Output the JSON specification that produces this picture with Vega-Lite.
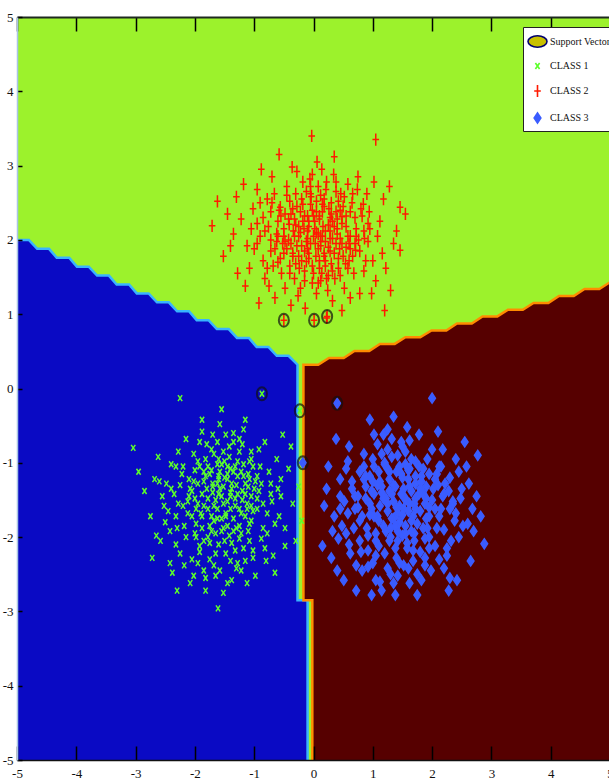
{
  "$schema": "https://vega.github.io/schema/vega-lite/v6.json",
  "width": 593,
  "height": 743,
  "autosize": {"type": "none"},
  "padding": {"left": 17, "top": 17, "right": 0, "bottom": 24},
  "background": "white",
  "config": {
    "view": {"stroke": null},
    "axis": {"labelFont": "Liberation Serif", "labelFontSize": 13, "labelColor": "#111", "tickColor": "#000", "grid": false, "title": null, "zindex": 2}
  },
  "datasets": {
    "bg": [{"x1": -5, "x2": 5, "y1": -5, "y2": 5}],
    "blue": [
      {"i": 0, "x": -5.3, "y": 2.0}, {"i": 1, "x": -4.8, "y": 2.0}, {"i": 2, "x": -4.66, "y": 1.88}, {"i": 3, "x": -4.46, "y": 1.88},
      {"i": 4, "x": -4.33, "y": 1.76}, {"i": 5, "x": -4.12, "y": 1.76}, {"i": 6, "x": -3.99, "y": 1.64}, {"i": 7, "x": -3.79, "y": 1.64},
      {"i": 8, "x": -3.65, "y": 1.52}, {"i": 9, "x": -3.45, "y": 1.52}, {"i": 10, "x": -3.32, "y": 1.4}, {"i": 11, "x": -3.11, "y": 1.4},
      {"i": 12, "x": -2.98, "y": 1.28}, {"i": 13, "x": -2.78, "y": 1.28}, {"i": 14, "x": -2.64, "y": 1.16}, {"i": 15, "x": -2.44, "y": 1.16},
      {"i": 16, "x": -2.3, "y": 1.04}, {"i": 17, "x": -2.1, "y": 1.04}, {"i": 18, "x": -1.97, "y": 0.92}, {"i": 19, "x": -1.77, "y": 0.92},
      {"i": 20, "x": -1.63, "y": 0.8}, {"i": 21, "x": -1.43, "y": 0.8}, {"i": 22, "x": -1.29, "y": 0.68}, {"i": 23, "x": -1.09, "y": 0.68},
      {"i": 24, "x": -0.96, "y": 0.56}, {"i": 25, "x": -0.76, "y": 0.56}, {"i": 26, "x": -0.62, "y": 0.44}, {"i": 27, "x": -0.42, "y": 0.44},
      {"i": 28, "x": -0.27, "y": 0.32}, {"i": 29, "x": -0.27, "y": -2.85}, {"i": 30, "x": -0.1, "y": -2.85}, {"i": 31, "x": -0.1, "y": -5.3},
      {"i": 32, "x": -5.3, "y": -5.3}
    ],
    "red": [
      {"i": 0, "x": -0.17, "y": 0.32}, {"i": 1, "x": 0.08, "y": 0.32}, {"i": 2, "x": 0.26, "y": 0.41}, {"i": 3, "x": 0.51, "y": 0.41},
      {"i": 4, "x": 0.69, "y": 0.505}, {"i": 5, "x": 0.94, "y": 0.505}, {"i": 6, "x": 1.12, "y": 0.6}, {"i": 7, "x": 1.37, "y": 0.6},
      {"i": 8, "x": 1.55, "y": 0.69}, {"i": 9, "x": 1.8, "y": 0.69}, {"i": 10, "x": 1.99, "y": 0.78}, {"i": 11, "x": 2.24, "y": 0.78},
      {"i": 12, "x": 2.42, "y": 0.875}, {"i": 13, "x": 2.67, "y": 0.875}, {"i": 14, "x": 2.85, "y": 0.97}, {"i": 15, "x": 3.1, "y": 0.97},
      {"i": 16, "x": 3.28, "y": 1.06}, {"i": 17, "x": 3.53, "y": 1.06}, {"i": 18, "x": 3.71, "y": 1.15}, {"i": 19, "x": 3.96, "y": 1.15},
      {"i": 20, "x": 4.14, "y": 1.245}, {"i": 21, "x": 4.39, "y": 1.245}, {"i": 22, "x": 4.57, "y": 1.34}, {"i": 23, "x": 4.82, "y": 1.34},
      {"i": 24, "x": 5.0, "y": 1.43}, {"i": 25, "x": 5.3, "y": 1.43}, {"i": 26, "x": 5.3, "y": -5.3}, {"i": 27, "x": -0.02, "y": -5.3},
      {"i": 28, "x": -0.02, "y": -2.85}, {"i": 29, "x": -0.17, "y": -2.85}
    ],
    "sv": [
      {"x": -0.5, "y": 0.92}, {"x": 0.01, "y": 0.92}, {"x": 0.23, "y": 0.97}, {"x": -0.87, "y": -0.07},
      {"x": 0.4, "y": -0.2}, {"x": -0.23, "y": -0.3}, {"x": -0.18, "y": -1.0}
    ],
    "pts": [
      {"series":"CLASS 2","x":0.12,"y":2.05},{"series":"CLASS 2","x":-0.35,"y":1.78},{"series":"CLASS 2","x":0.48,"y":2.31},{"series":"CLASS 2","x":-0.82,"y":2.12},
      {"series":"CLASS 2","x":0.25,"y":1.52},{"series":"CLASS 2","x":-0.05,"y":2.62},{"series":"CLASS 2","x":0.71,"y":1.86},{"series":"CLASS 2","x":-0.56,"y":2.44},
      {"series":"CLASS 2","x":0.03,"y":1.95},{"series":"CLASS 2","x":0.38,"y":2.78},{"series":"CLASS 2","x":-1.12,"y":1.92},{"series":"CLASS 2","x":0.95,"y":2.15},
      {"series":"CLASS 2","x":-0.22,"y":1.35},{"series":"CLASS 2","x":0.58,"y":1.62},{"series":"CLASS 2","x":-0.68,"y":1.65},{"series":"CLASS 2","x":0.15,"y":2.38},
      {"series":"CLASS 2","x":-0.41,"y":2.21},{"series":"CLASS 2","x":1.18,"y":2.55},{"series":"CLASS 2","x":-0.95,"y":2.68},{"series":"CLASS 2","x":0.32,"y":1.18},
      {"series":"CLASS 2","x":-0.12,"y":1.71},{"series":"CLASS 2","x":0.84,"y":2.48},{"series":"CLASS 2","x":-1.45,"y":2.35},{"series":"CLASS 2","x":0.06,"y":3.05},
      {"series":"CLASS 2","x":-0.28,"y":2.92},{"series":"CLASS 2","x":0.62,"y":2.05},{"series":"CLASS 2","x":-0.75,"y":1.38},{"series":"CLASS 2","x":1.35,"y":1.95},
      {"series":"CLASS 2","x":-0.02,"y":1.42},{"series":"CLASS 2","x":0.44,"y":1.88},{"series":"CLASS 2","x":-0.52,"y":1.95},{"series":"CLASS 2","x":0.21,"y":2.68},
      {"series":"CLASS 2","x":-1.28,"y":1.55},{"series":"CLASS 2","x":1.05,"y":1.45},{"series":"CLASS 2","x":-0.18,"y":2.48},{"series":"CLASS 2","x":0.75,"y":2.85},
      {"series":"CLASS 2","x":-0.88,"y":2.95},{"series":"CLASS 2","x":0.1,"y":1.62},{"series":"CLASS 2","x":-0.38,"y":1.12},{"series":"CLASS 2","x":1.46,"y":2.44},
      {"series":"CLASS 2","x":-1.71,"y":2.19},{"series":"CLASS 2","x":-0.03,"y":3.4},{"series":"CLASS 2","x":1.05,"y":3.35},{"series":"CLASS 2","x":1.46,"y":1.86},
      {"series":"CLASS 2","x":1.2,"y":1.05},{"series":"CLASS 2","x":0.28,"y":2.12},{"series":"CLASS 2","x":-0.62,"y":2.08},{"series":"CLASS 2","x":0.52,"y":1.35},
      {"series":"CLASS 2","x":-0.08,"y":2.25},{"series":"CLASS 2","x":0.88,"y":1.72},{"series":"CLASS 2","x":-1.02,"y":2.42},{"series":"CLASS 2","x":0.35,"y":3.12},
      {"series":"CLASS 2","x":-0.45,"y":2.72},{"series":"CLASS 2","x":0.18,"y":1.82},{"series":"CLASS 2","x":-0.25,"y":2.05},{"series":"CLASS 2","x":0.66,"y":2.62},
      {"series":"CLASS 2","x":-0.15,"y":1.58},{"series":"CLASS 2","x":1.12,"y":2.25},{"series":"CLASS 2","x":-0.72,"y":1.85},{"series":"CLASS 2","x":0.42,"y":2.52},
      {"series":"CLASS 2","x":-1.18,"y":2.75},{"series":"CLASS 2","x":0.02,"y":2.15},{"series":"CLASS 2","x":-0.32,"y":1.48},{"series":"CLASS 2","x":0.78,"y":1.28},
      {"series":"CLASS 2","x":-0.58,"y":3.15},{"series":"CLASS 2","x":0.22,"y":0.95},{"series":"CLASS 2","x":-0.92,"y":1.15},{"series":"CLASS 2","x":1.28,"y":2.72},
      {"series":"CLASS 2","x":0.08,"y":1.88},{"series":"CLASS 2","x":-0.48,"y":2.35},{"series":"CLASS 2","x":0.55,"y":2.18},{"series":"CLASS 2","x":-0.06,"y":2.82},
      {"series":"CLASS 2","x":0.92,"y":1.98},{"series":"CLASS 2","x":-1.35,"y":2.08},{"series":"CLASS 2","x":0.3,"y":1.68},{"series":"CLASS 2","x":-0.2,"y":1.92},
      {"series":"CLASS 2","x":0.68,"y":1.55},{"series":"CLASS 2","x":-0.78,"y":2.55},{"series":"CLASS 2","x":0.14,"y":2.95},{"series":"CLASS 2","x":-0.4,"y":1.65},
      {"series":"CLASS 2","x":1.02,"y":2.78},{"series":"CLASS 2","x":-1.52,"y":1.78},{"series":"CLASS 2","x":0.45,"y":2.02},{"series":"CLASS 2","x":-0.1,"y":2.32},
      {"series":"CLASS 2","x":0.82,"y":2.32},{"series":"CLASS 2","x":-0.65,"y":1.22},{"series":"CLASS 2","x":0.26,"y":2.42},{"series":"CLASS 2","x":-0.3,"y":2.62},
      {"series":"CLASS 2","x":0.6,"y":1.95},{"series":"CLASS 2","x":-0.85,"y":1.72},{"series":"CLASS 2","x":0.05,"y":1.28},{"series":"CLASS 2","x":1.4,"y":2.12},
      {"series":"CLASS 2","x":-1.08,"y":1.62},{"series":"CLASS 2","x":0.36,"y":1.48},{"series":"CLASS 2","x":-0.16,"y":2.15},{"series":"CLASS 2","x":0.72,"y":2.15},
      {"series":"CLASS 2","x":-0.54,"y":1.55},{"series":"CLASS 2","x":0.18,"y":2.55},{"series":"CLASS 2","x":-0.02,"y":1.65},{"series":"CLASS 2","x":1.22,"y":1.62},
      {"series":"CLASS 2","x":-0.7,"y":2.85},{"series":"CLASS 2","x":0.48,"y":1.05},{"series":"CLASS 2","x":-0.36,"y":2.98},{"series":"CLASS 2","x":0.9,"y":2.62},
      {"series":"CLASS 2","x":-1.22,"y":2.28},{"series":"CLASS 2","x":0.12,"y":1.45},{"series":"CLASS 2","x":-0.45,"y":1.88},{"series":"CLASS 2","x":0.58,"y":2.75},
      {"series":"CLASS 2","x":-0.95,"y":2.22},{"series":"CLASS 2","x":0.32,"y":2.25},{"series":"CLASS 2","x":-0.12,"y":1.98},{"series":"CLASS 2","x":0.98,"y":1.28},
      {"series":"CLASS 2","x":-0.26,"y":1.25},{"series":"CLASS 2","x":0.42,"y":1.75},{"series":"CLASS 2","x":-1.62,"y":2.52},{"series":"CLASS 2","x":0.76,"y":2.0},
      {"series":"CLASS 2","x":-0.6,"y":2.25},{"series":"CLASS 2","x":0.2,"y":1.98},{"series":"CLASS 2","x":-0.05,"y":2.48},{"series":"CLASS 2","x":1.55,"y":2.35},
      {"series":"CLASS 2","x":-0.82,"y":1.48},{"series":"CLASS 2","x":0.62,"y":2.38},{"series":"CLASS 2","x":-0.34,"y":2.12},{"series":"CLASS 2","x":0.08,"y":2.72},
      {"series":"CLASS 2","x":1.08,"y":2.05},{"series":"CLASS 2","x":-1.15,"y":1.38},{"series":"CLASS 2","x":0.38,"y":1.95},{"series":"CLASS 2","x":-0.48,"y":1.35},
      {"series":"CLASS 2","x":0.24,"y":1.32},{"series":"CLASS 2","x":-0.18,"y":2.78},{"series":"CLASS 2","x":0.85,"y":1.58},{"series":"CLASS 2","x":-0.72,"y":2.38},
      {"series":"CLASS 2","x":0.5,"y":2.45},{"series":"CLASS 2","x":-0.08,"y":1.82},{"series":"CLASS 2","x":1.3,"y":1.32},{"series":"CLASS 2","x":-0.9,"y":2.05},
      {"series":"CLASS 2","x":0.16,"y":2.18},{"series":"CLASS 2","x":-0.4,"y":2.52},{"series":"CLASS 2","x":0.66,"y":1.78},{"series":"CLASS 2","x":-1.4,"y":1.92},
      {"series":"CLASS 2","x":0.0,"y":2.05},{"series":"CLASS 2","x":0.34,"y":2.88},{"series":"CLASS 2","x":-0.24,"y":1.62},{"series":"CLASS 2","x":0.94,"y":2.38},
      {"series":"CLASS 2","x":-0.56,"y":1.75},{"series":"CLASS 2","x":0.1,"y":2.32},{"series":"CLASS 2","x":-0.14,"y":1.08},{"series":"CLASS 2","x":0.54,"y":1.68},
      {"series":"CLASS 2","x":-1.0,"y":1.88},{"series":"CLASS 2","x":0.28,"y":2.02},{"series":"CLASS 2","x":-0.32,"y":2.28},{"series":"CLASS 2","x":0.74,"y":2.68},
      {"series":"CLASS 2","x":-0.66,"y":2.62},{"series":"CLASS 2","x":0.4,"y":2.15},{"series":"CLASS 2","x":-0.04,"y":2.58},{"series":"CLASS 2","x":1.16,"y":1.82},
      {"series":"CLASS 2","x":-0.5,"y":2.05},{"series":"CLASS 2","x":0.2,"y":1.72},{"series":"CLASS 2","x":-0.22,"y":2.38},{"series":"CLASS 2","x":0.62,"y":1.22},
      {"series":"CLASS 2","x":-1.3,"y":2.58},{"series":"CLASS 2","x":0.46,"y":2.62},{"series":"CLASS 2","x":-0.1,"y":2.12},{"series":"CLASS 2","x":0.86,"y":2.02},
      {"series":"CLASS 2","x":-0.76,"y":2.18},{"series":"CLASS 2","x":0.14,"y":1.55},{"series":"CLASS 2","x":-0.38,"y":1.95},{"series":"CLASS 2","x":0.3,"y":2.35},
      {"series":"CLASS 2","x":-0.62,"y":1.98},{"series":"CLASS 2","x":0.04,"y":1.78},{"series":"CLASS 2","x":-0.5,"y":0.92},{"series":"CLASS 2","x":0.01,"y":0.92},
      {"series":"CLASS 2","x":0.23,"y":0.97},
      {"series":"CLASS 2","x":0.05,"y":2.1},{"series":"CLASS 2","x":-0.15,"y":1.85},{"series":"CLASS 2","x":0.25,"y":1.9},{"series":"CLASS 2","x":-0.3,"y":2.2},{"series":"CLASS 2","x":0.4,"y":2.08},
      {"series":"CLASS 2","x":0.18,"y":2.45},{"series":"CLASS 2","x":-0.08,"y":1.75},{"series":"CLASS 2","x":0.32,"y":1.58},{"series":"CLASS 2","x":-0.42,"y":2.0},{"series":"CLASS 2","x":0.1,"y":2.28},
      {"series":"CLASS 2","x":-0.2,"y":2.55},{"series":"CLASS 2","x":0.55,"y":1.9},{"series":"CLASS 2","x":-0.6,"y":1.7},{"series":"CLASS 2","x":0.2,"y":1.65},{"series":"CLASS 2","x":-0.02,"y":2.4},
      {"series":"CLASS 2","x":0.48,"y":2.22},{"series":"CLASS 2","x":-0.35,"y":2.42},{"series":"CLASS 2","x":0.12,"y":1.92},{"series":"CLASS 2","x":-0.25,"y":1.78},{"series":"CLASS 2","x":0.38,"y":2.65},
      {"series":"CLASS 2","x":0.7,"y":2.3},{"series":"CLASS 2","x":-0.5,"y":2.15},{"series":"CLASS 2","x":0.0,"y":1.55},{"series":"CLASS 2","x":0.28,"y":2.3},{"series":"CLASS 2","x":-0.12,"y":2.65},
      {"series":"CLASS 2","x":0.6,"y":1.72},{"series":"CLASS 2","x":-0.72,"y":2.0},{"series":"CLASS 2","x":0.15,"y":2.05},{"series":"CLASS 2","x":-0.4,"y":1.55},{"series":"CLASS 2","x":0.45,"y":2.4},
      {"series":"CLASS 2","x":-0.05,"y":1.95},{"series":"CLASS 2","x":0.85,"y":2.12},{"series":"CLASS 2","x":-0.28,"y":1.92},{"series":"CLASS 2","x":0.22,"y":2.78},{"series":"CLASS 2","x":-0.55,"y":2.32},
      {"series":"CLASS 2","x":0.35,"y":1.82},{"series":"CLASS 2","x":-0.18,"y":2.25},{"series":"CLASS 2","x":0.08,"y":1.42},{"series":"CLASS 2","x":0.65,"y":2.5},{"series":"CLASS 2","x":-0.85,"y":2.3},
      {"series":"CLASS 2","x":0.02,"y":2.25},{"series":"CLASS 2","x":-0.45,"y":2.6},{"series":"CLASS 2","x":0.5,"y":1.78},{"series":"CLASS 2","x":-0.1,"y":2.02},{"series":"CLASS 2","x":0.3,"y":2.5},
      {"series":"CLASS 2","x":-0.65,"y":1.88},{"series":"CLASS 2","x":0.18,"y":1.78},{"series":"CLASS 2","x":0.78,"y":1.85},{"series":"CLASS 2","x":-0.3,"y":1.68},{"series":"CLASS 2","x":0.4,"y":2.28},
      {"series":"CLASS 2","x":-0.02,"y":2.88},{"series":"CLASS 2","x":0.92,"y":2.22},{"series":"CLASS 2","x":-0.95,"y":1.95},{"series":"CLASS 2","x":0.25,"y":2.2},{"series":"CLASS 2","x":-0.22,"y":2.1},
      {"series":"CLASS 2","x":0.12,"y":2.6},{"series":"CLASS 2","x":-0.5,"y":1.82},{"series":"CLASS 2","x":0.58,"y":2.05},{"series":"CLASS 2","x":-0.15,"y":1.45},{"series":"CLASS 2","x":0.05,"y":2.38},
      {"series":"CLASS 2","x":0.42,"y":1.62},{"series":"CLASS 2","x":-0.38,"y":2.35},{"series":"CLASS 2","x":0.7,"y":1.95},{"series":"CLASS 2","x":-0.08,"y":2.18},{"series":"CLASS 2","x":0.2,"y":2.12},
      {"series":"CLASS 2","x":-0.7,"y":2.5},{"series":"CLASS 2","x":0.32,"y":2.02},{"series":"CLASS 2","x":-0.28,"y":2.45},{"series":"CLASS 2","x":0.1,"y":1.72},{"series":"CLASS 2","x":0.52,"y":2.58},
      {"series":"CLASS 2","x":-0.48,"y":1.98},{"series":"CLASS 2","x":0.0,"y":2.32},{"series":"CLASS 2","x":0.28,"y":1.85},{"series":"CLASS 2","x":-0.6,"y":2.05},{"series":"CLASS 2","x":0.8,"y":2.42},
      {"series":"CLASS 2","x":-0.1,"y":1.88},{"series":"CLASS 2","x":0.15,"y":2.48},{"series":"CLASS 2","x":-0.32,"y":2.05},{"series":"CLASS 2","x":0.62,"y":1.88},{"series":"CLASS 2","x":-1.05,"y":2.15},
      {"series":"CLASS 2","x":0.38,"y":2.38},{"series":"CLASS 2","x":-0.2,"y":1.72},{"series":"CLASS 2","x":0.08,"y":2.08},{"series":"CLASS 2","x":-0.42,"y":2.28},{"series":"CLASS 2","x":0.48,"y":1.95},
      {"series":"CLASS 2","x":1.0,"y":1.72},{"series":"CLASS 2","x":-0.78,"y":1.62},{"series":"CLASS 2","x":0.22,"y":1.48},{"series":"CLASS 2","x":-0.05,"y":2.72},{"series":"CLASS 2","x":0.35,"y":2.18},
      {"series":"CLASS 2","x":-0.15,"y":2.32},{"series":"CLASS 2","x":0.55,"y":2.32},{"series":"CLASS 2","x":-0.58,"y":2.4},{"series":"CLASS 2","x":0.12,"y":1.98},{"series":"CLASS 2","x":-0.25,"y":2.18},
      {"series":"CLASS 2","x":0.72,"y":2.05},{"series":"CLASS 2","x":-0.9,"y":2.5},{"series":"CLASS 2","x":0.45,"y":1.52},{"series":"CLASS 2","x":-0.35,"y":1.82},{"series":"CLASS 2","x":0.05,"y":2.52},
      {"series":"CLASS 1","x":-1.45,"y":-1.22},{"series":"CLASS 1","x":-1.82,"y":-0.95},{"series":"CLASS 1","x":-1.12,"y":-1.55},{"series":"CLASS 1","x":-2.05,"y":-1.38},
      {"series":"CLASS 1","x":-1.35,"y":-0.72},{"series":"CLASS 1","x":-0.95,"y":-1.18},{"series":"CLASS 1","x":-1.68,"y":-1.78},{"series":"CLASS 1","x":-2.32,"y":-1.05},
      {"series":"CLASS 1","x":-1.22,"y":-1.95},{"series":"CLASS 1","x":-1.58,"y":-0.48},{"series":"CLASS 1","x":-0.72,"y":-1.42},{"series":"CLASS 1","x":-1.92,"y":-2.12},
      {"series":"CLASS 1","x":-1.05,"y":-0.85},{"series":"CLASS 1","x":-2.52,"y":-1.58},{"series":"CLASS 1","x":-1.4,"y":-1.45},{"series":"CLASS 1","x":-1.75,"y":-1.15},
      {"series":"CLASS 1","x":-0.88,"y":-2.02},{"series":"CLASS 1","x":-2.15,"y":-0.68},{"series":"CLASS 1","x":-1.28,"y":-2.35},{"series":"CLASS 1","x":-1.62,"y":-1.02},
      {"series":"CLASS 1","x":-3.04,"y":-0.8},{"series":"CLASS 1","x":-2.25,"y":-0.13},{"series":"CLASS 1","x":-1.61,"y":-2.96},{"series":"CLASS 1","x":-0.35,"y":-1.55},
      {"series":"CLASS 1","x":-1.52,"y":-1.32},{"series":"CLASS 1","x":-1.98,"y":-1.62},{"series":"CLASS 1","x":-1.15,"y":-1.28},{"series":"CLASS 1","x":-2.42,"y":-1.92},
      {"series":"CLASS 1","x":-0.62,"y":-0.95},{"series":"CLASS 1","x":-1.85,"y":-2.45},{"series":"CLASS 1","x":-1.32,"y":-1.05},{"series":"CLASS 1","x":-2.68,"y":-1.22},
      {"series":"CLASS 1","x":-1.02,"y":-2.28},{"series":"CLASS 1","x":-1.72,"y":-0.82},{"series":"CLASS 1","x":-0.48,"y":-1.88},{"series":"CLASS 1","x":-2.08,"y":-2.62},
      {"series":"CLASS 1","x":-1.48,"y":-1.68},{"series":"CLASS 1","x":-1.18,"y":-0.55},{"series":"CLASS 1","x":-2.35,"y":-1.42},{"series":"CLASS 1","x":-0.78,"y":-1.68},
      {"series":"CLASS 1","x":-1.65,"y":-2.22},{"series":"CLASS 1","x":-1.95,"y":-1.28},{"series":"CLASS 1","x":-1.25,"y":-1.62},{"series":"CLASS 1","x":-2.62,"y":-0.92},
      {"series":"CLASS 1","x":-0.92,"y":-1.38},{"series":"CLASS 1","x":-1.55,"y":-1.92},{"series":"CLASS 1","x":-2.02,"y":-0.88},{"series":"CLASS 1","x":-1.38,"y":-2.58},
      {"series":"CLASS 1","x":-1.78,"y":-1.48},{"series":"CLASS 1","x":-0.55,"y":-1.22},{"series":"CLASS 1","x":-2.25,"y":-2.22},{"series":"CLASS 1","x":-1.08,"y":-1.82},
      {"series":"CLASS 1","x":-1.88,"y":-1.72},{"series":"CLASS 1","x":-1.42,"y":-0.92},{"series":"CLASS 1","x":-2.75,"y":-1.72},{"series":"CLASS 1","x":-0.68,"y":-2.25},
      {"series":"CLASS 1","x":-1.6,"y":-1.18},{"series":"CLASS 1","x":-2.18,"y":-1.85},{"series":"CLASS 1","x":-1.2,"y":-1.38},{"series":"CLASS 1","x":-1.82,"y":-2.72},
      {"series":"CLASS 1","x":-0.82,"y":-0.72},{"series":"CLASS 1","x":-2.48,"y":-1.28},{"series":"CLASS 1","x":-1.5,"y":-2.05},{"series":"CLASS 1","x":-1.02,"y":-1.05},
      {"series":"CLASS 1","x":-2.12,"y":-1.52},{"series":"CLASS 1","x":-1.35,"y":-1.75},{"series":"CLASS 1","x":-0.42,"y":-1.08},{"series":"CLASS 1","x":-1.7,"y":-0.62},
      {"series":"CLASS 1","x":-2.38,"y":-2.48},{"series":"CLASS 1","x":-1.12,"y":-2.62},{"series":"CLASS 1","x":-1.92,"y":-1.05},{"series":"CLASS 1","x":-0.58,"y":-1.72},
      {"series":"CLASS 1","x":-1.45,"y":-1.52},{"series":"CLASS 1","x":-2.85,"y":-1.38},{"series":"CLASS 1","x":-1.28,"y":-0.98},{"series":"CLASS 1","x":-1.68,"y":-2.38},
      {"series":"CLASS 1","x":-2.0,"y":-1.95},{"series":"CLASS 1","x":-0.95,"y":-1.62},{"series":"CLASS 1","x":-1.55,"y":-0.28},{"series":"CLASS 1","x":-2.22,"y":-1.15},
      {"series":"CLASS 1","x":-1.08,"y":-2.05},{"series":"CLASS 1","x":-1.8,"y":-1.35},{"series":"CLASS 1","x":-0.25,"y":-1.32},{"series":"CLASS 1","x":-2.58,"y":-2.05},
      {"series":"CLASS 1","x":-1.32,"y":-2.18},{"series":"CLASS 1","x":-1.62,"y":-1.62},{"series":"CLASS 1","x":-0.75,"y":-1.12},{"series":"CLASS 1","x":-2.28,"y":-0.85},
      {"series":"CLASS 1","x":-1.4,"y":-1.08},{"series":"CLASS 1","x":-1.95,"y":-2.35},{"series":"CLASS 1","x":-1.15,"y":-1.72},{"series":"CLASS 1","x":-2.45,"y":-1.65},
      {"series":"CLASS 1","x":-0.65,"y":-2.48},{"series":"CLASS 1","x":-1.72,"y":-1.92},{"series":"CLASS 1","x":-1.25,"y":-0.68},{"series":"CLASS 1","x":-2.1,"y":-1.22},
      {"series":"CLASS 1","x":-0.85,"y":-1.88},{"series":"CLASS 1","x":-1.52,"y":-2.75},{"series":"CLASS 1","x":-1.88,"y":-0.42},{"series":"CLASS 1","x":-1.05,"y":-1.45},
      {"series":"CLASS 1","x":-2.65,"y":-1.98},{"series":"CLASS 1","x":-1.38,"y":-1.35},{"series":"CLASS 1","x":-0.48,"y":-2.12},{"series":"CLASS 1","x":-1.78,"y":-1.05},
      {"series":"CLASS 1","x":-2.32,"y":-1.72},{"series":"CLASS 1","x":-1.18,"y":-1.18},{"series":"CLASS 1","x":-1.65,"y":-2.52},{"series":"CLASS 1","x":-0.92,"y":-0.82},
      {"series":"CLASS 1","x":-2.05,"y":-1.72},{"series":"CLASS 1","x":-1.45,"y":-1.85},{"series":"CLASS 1","x":-2.95,"y":-1.12},{"series":"CLASS 1","x":-0.7,"y":-1.52},
      {"series":"CLASS 1","x":-1.58,"y":-1.12},{"series":"CLASS 1","x":-1.98,"y":-2.0},{"series":"CLASS 1","x":-1.22,"y":-2.45},{"series":"CLASS 1","x":-0.38,"y":-0.78},
      {"series":"CLASS 1","x":-1.85,"y":-1.58},{"series":"CLASS 1","x":-2.4,"y":-1.02},{"series":"CLASS 1","x":-1.1,"y":-1.32},{"series":"CLASS 1","x":-1.48,"y":-0.62},
      {"series":"CLASS 1","x":-2.18,"y":-2.38},{"series":"CLASS 1","x":-0.8,"y":-2.32},{"series":"CLASS 1","x":-1.7,"y":-1.28},{"series":"CLASS 1","x":-1.3,"y":-1.88},
      {"series":"CLASS 1","x":-2.55,"y":-1.45},{"series":"CLASS 1","x":-1.02,"y":-1.65},{"series":"CLASS 1","x":-1.92,"y":-0.72},{"series":"CLASS 1","x":-0.6,"y":-1.35},
      {"series":"CLASS 1","x":-1.4,"y":-2.32},{"series":"CLASS 1","x":-2.08,"y":-1.35},{"series":"CLASS 1","x":-1.6,"y":-1.42},{"series":"CLASS 1","x":-0.3,"y":-2.05},
      {"series":"CLASS 1","x":-1.22,"y":-1.12},{"series":"CLASS 1","x":-2.3,"y":-2.72},{"series":"CLASS 1","x":-1.75,"y":-2.08},{"series":"CLASS 1","x":-0.98,"y":-2.52},
      {"series":"CLASS 1","x":-1.52,"y":-0.85},{"series":"CLASS 1","x":-2.72,"y":-2.28},{"series":"CLASS 1","x":-1.32,"y":-1.48},{"series":"CLASS 1","x":-0.52,"y":-0.62},
      {"series":"CLASS 1","x":-1.88,"y":-1.88},{"series":"CLASS 1","x":-1.15,"y":-0.42},{"series":"CLASS 1","x":-2.2,"y":-1.58},{"series":"CLASS 1","x":-1.42,"y":-1.98},
      {"series":"CLASS 1","x":-0.88,"y":-1.28},{"series":"CLASS 1","x":-1.62,"y":-1.75},{"series":"CLASS 1","x":-2.02,"y":-2.52},{"series":"CLASS 1","x":-1.08,"y":-0.98},
      {"series":"CLASS 1","x":-0.2,"y":-1.78},{"series":"CLASS 1","x":-1.82,"y":-1.18},{"series":"CLASS 1","x":-0.87,"y":-0.07},{"series":"CLASS 1","x":-0.23,"y":-0.3},
      {"series":"CLASS 1","x":-1.5,"y":-1.2},{"series":"CLASS 1","x":-1.7,"y":-1.4},{"series":"CLASS 1","x":-1.3,"y":-1.3},{"series":"CLASS 1","x":-1.6,"y":-0.95},{"series":"CLASS 1","x":-1.2,"y":-1.5},
      {"series":"CLASS 1","x":-1.85,"y":-1.25},{"series":"CLASS 1","x":-1.4,"y":-1.62},{"series":"CLASS 1","x":-1.1,"y":-1.15},{"series":"CLASS 1","x":-1.95,"y":-1.55},{"series":"CLASS 1","x":-1.55,"y":-1.75},
      {"series":"CLASS 1","x":-1.25,"y":-0.85},{"series":"CLASS 1","x":-1.75,"y":-1.85},{"series":"CLASS 1","x":-1.45,"y":-1.05},{"series":"CLASS 1","x":-2.0,"y":-1.1},{"series":"CLASS 1","x":-1.05,"y":-1.78},
      {"series":"CLASS 1","x":-1.65,"y":-1.5},{"series":"CLASS 1","x":-1.35,"y":-1.92},{"series":"CLASS 1","x":-1.8,"y":-0.75},{"series":"CLASS 1","x":-1.15,"y":-1.42},{"series":"CLASS 1","x":-2.1,"y":-1.45},
      {"series":"CLASS 1","x":-1.52,"y":-1.55},{"series":"CLASS 1","x":-1.28,"y":-1.18},{"series":"CLASS 1","x":-1.9,"y":-1.68},{"series":"CLASS 1","x":-0.98,"y":-1.25},{"series":"CLASS 1","x":-1.6,"y":-2.1},
      {"series":"CLASS 1","x":-2.25,"y":-1.3},{"series":"CLASS 1","x":-1.42,"y":-0.78},{"series":"CLASS 1","x":-1.72,"y":-1.1},{"series":"CLASS 1","x":-1.18,"y":-2.15},{"series":"CLASS 1","x":-1.85,"y":-2.05},
      {"series":"CLASS 1","x":-1.38,"y":-1.28},{"series":"CLASS 1","x":-0.85,"y":-1.55},{"series":"CLASS 1","x":-2.3,"y":-1.88},{"series":"CLASS 1","x":-1.58,"y":-1.35},{"series":"CLASS 1","x":-1.22,"y":-1.68},
      {"series":"CLASS 1","x":-1.95,"y":-0.98},{"series":"CLASS 1","x":-1.48,"y":-2.22},{"series":"CLASS 1","x":-1.05,"y":-0.95},{"series":"CLASS 1","x":-2.15,"y":-2.0},{"series":"CLASS 1","x":-1.68,"y":-0.88},
      {"series":"CLASS 1","x":-1.32,"y":-1.58},{"series":"CLASS 1","x":-1.78,"y":-1.62},{"series":"CLASS 1","x":-1.1,"y":-1.92},{"series":"CLASS 1","x":-2.4,"y":-1.35},{"series":"CLASS 1","x":-1.55,"y":-1.02},
      {"series":"CLASS 1","x":-0.78,"y":-1.95},{"series":"CLASS 1","x":-1.88,"y":-1.42},{"series":"CLASS 1","x":-1.25,"y":-2.02},{"series":"CLASS 1","x":-1.62,"y":-1.28},{"series":"CLASS 1","x":-2.05,"y":-2.3},
      {"series":"CLASS 1","x":-1.4,"y":-1.4},{"series":"CLASS 1","x":-1.0,"y":-1.35},{"series":"CLASS 1","x":-1.75,"y":-2.3},{"series":"CLASS 1","x":-1.2,"y":-0.75},{"series":"CLASS 1","x":-2.2,"y":-1.05},
      {"series":"CLASS 1","x":-1.52,"y":-1.88},{"series":"CLASS 1","x":-0.9,"y":-1.05},{"series":"CLASS 1","x":-1.85,"y":-1.12},{"series":"CLASS 1","x":-1.3,"y":-2.42},{"series":"CLASS 1","x":-1.65,"y":-1.95},
      {"series":"CLASS 1","x":-2.5,"y":-1.8},{"series":"CLASS 1","x":-1.12,"y":-1.62},{"series":"CLASS 1","x":-1.45,"y":-1.15},{"series":"CLASS 1","x":-1.98,"y":-1.82},{"series":"CLASS 1","x":-0.72,"y":-1.28},
      {"series":"CLASS 1","x":-1.58,"y":-2.45},{"series":"CLASS 1","x":-1.35,"y":-0.6},{"series":"CLASS 1","x":-2.12,"y":-1.68},{"series":"CLASS 1","x":-1.02,"y":-2.18},{"series":"CLASS 1","x":-1.7,"y":-1.32},
      {"series":"CLASS 1","x":-1.48,"y":-1.72},{"series":"CLASS 1","x":-2.32,"y":-2.1},{"series":"CLASS 1","x":-1.18,"y":-1.02},{"series":"CLASS 1","x":-1.82,"y":-2.55},{"series":"CLASS 1","x":-0.65,"y":-1.82},
      {"series":"CLASS 1","x":-1.62,"y":-0.72},{"series":"CLASS 1","x":-1.28,"y":-1.42},{"series":"CLASS 1","x":-2.02,"y":-1.25},{"series":"CLASS 1","x":-1.38,"y":-2.08},{"series":"CLASS 1","x":-0.95,"y":-1.48},
      {"series":"CLASS 1","x":-1.92,"y":-2.2},{"series":"CLASS 1","x":-1.55,"y":-1.45},{"series":"CLASS 1","x":-2.6,"y":-1.25},{"series":"CLASS 1","x":-1.08,"y":-1.22},{"series":"CLASS 1","x":-1.72,"y":-1.72},
      {"series":"CLASS 1","x":-1.25,"y":-1.85},{"series":"CLASS 1","x":-2.0,"y":-1.48},{"series":"CLASS 1","x":-1.45,"y":-2.62},{"series":"CLASS 1","x":-0.82,"y":-2.15},{"series":"CLASS 1","x":-1.88,"y":-0.58},
      {"series":"CLASS 1","x":-1.6,"y":-1.22},{"series":"CLASS 1","x":-1.15,"y":-2.32},{"series":"CLASS 1","x":-2.28,"y":-1.55},{"series":"CLASS 1","x":-1.35,"y":-1.12},{"series":"CLASS 1","x":-1.78,"y":-2.0},
      {"series":"CLASS 1","x":-0.55,"y":-1.45},{"series":"CLASS 1","x":-1.5,"y":-0.98},{"series":"CLASS 1","x":-2.42,"y":-2.35},{"series":"CLASS 1","x":-1.05,"y":-1.58},{"series":"CLASS 1","x":-1.68,"y":-1.58},
      {"series":"CLASS 3","x":1.38,"y":-1.32},{"series":"CLASS 3","x":1.02,"y":-1.05},{"series":"CLASS 3","x":1.72,"y":-1.62},{"series":"CLASS 3","x":0.75,"y":-1.45},
      {"series":"CLASS 3","x":1.55,"y":-0.85},{"series":"CLASS 3","x":2.05,"y":-1.22},{"series":"CLASS 3","x":1.18,"y":-1.85},{"series":"CLASS 3","x":0.58,"y":-0.98},
      {"series":"CLASS 3","x":1.88,"y":-2.02},{"series":"CLASS 3","x":1.25,"y":-0.55},{"series":"CLASS 3","x":2.35,"y":-1.55},{"series":"CLASS 3","x":0.92,"y":-2.18},
      {"series":"CLASS 3","x":1.62,"y":-1.08},{"series":"CLASS 3","x":0.35,"y":-1.72},{"series":"CLASS 3","x":1.45,"y":-1.58},{"series":"CLASS 3","x":1.12,"y":-1.25},
      {"series":"CLASS 3","x":2.18,"y":-0.82},{"series":"CLASS 3","x":0.82,"y":-2.45},{"series":"CLASS 3","x":1.68,"y":-2.32},{"series":"CLASS 3","x":1.32,"y":-0.92},
      {"series":"CLASS 3","x":2.0,"y":-0.13},{"series":"CLASS 3","x":2.88,"y":-2.09},{"series":"CLASS 3","x":0.51,"y":-2.58},{"series":"CLASS 3","x":2.77,"y":-0.9},
      {"series":"CLASS 3","x":1.52,"y":-1.35},{"series":"CLASS 3","x":0.98,"y":-1.62},{"series":"CLASS 3","x":1.85,"y":-1.42},{"series":"CLASS 3","x":0.45,"y":-1.22},
      {"series":"CLASS 3","x":2.52,"y":-1.85},{"series":"CLASS 3","x":1.28,"y":-2.05},{"series":"CLASS 3","x":1.78,"y":-0.62},{"series":"CLASS 3","x":0.68,"y":-1.88},
      {"series":"CLASS 3","x":2.25,"y":-2.25},{"series":"CLASS 3","x":1.08,"y":-0.75},{"series":"CLASS 3","x":1.95,"y":-1.72},{"series":"CLASS 3","x":0.25,"y":-1.05},
      {"series":"CLASS 3","x":1.42,"y":-2.52},{"series":"CLASS 3","x":2.62,"y":-1.28},{"series":"CLASS 3","x":0.88,"y":-1.32},{"series":"CLASS 3","x":1.65,"y":-1.92},
      {"series":"CLASS 3","x":1.22,"y":-1.48},{"series":"CLASS 3","x":2.12,"y":-1.05},{"series":"CLASS 3","x":0.62,"y":-2.22},{"series":"CLASS 3","x":1.48,"y":-0.72},
      {"series":"CLASS 3","x":2.42,"y":-2.58},{"series":"CLASS 3","x":1.05,"y":-1.95},{"series":"CLASS 3","x":1.82,"y":-1.18},{"series":"CLASS 3","x":0.38,"y":-0.68},
      {"series":"CLASS 3","x":1.58,"y":-2.15},{"series":"CLASS 3","x":2.28,"y":-1.38},{"series":"CLASS 3","x":0.78,"y":-1.12},{"series":"CLASS 3","x":1.35,"y":-1.75},
      {"series":"CLASS 3","x":1.98,"y":-2.45},{"series":"CLASS 3","x":0.95,"y":-0.42},{"series":"CLASS 3","x":2.68,"y":-1.62},{"series":"CLASS 3","x":1.15,"y":-2.72},
      {"series":"CLASS 3","x":1.72,"y":-1.28},{"series":"CLASS 3","x":0.52,"y":-1.52},{"series":"CLASS 3","x":2.08,"y":-1.88},{"series":"CLASS 3","x":1.28,"y":-1.12},
      {"series":"CLASS 3","x":0.72,"y":-2.72},{"series":"CLASS 3","x":1.92,"y":-0.95},{"series":"CLASS 3","x":1.5,"y":-1.98},{"series":"CLASS 3","x":0.18,"y":-1.58},
      {"series":"CLASS 3","x":2.45,"y":-1.12},{"series":"CLASS 3","x":1.02,"y":-1.42},{"series":"CLASS 3","x":1.62,"y":-2.62},{"series":"CLASS 3","x":2.15,"y":-1.62},
      {"series":"CLASS 3","x":0.85,"y":-0.88},{"series":"CLASS 3","x":1.4,"y":-2.28},{"series":"CLASS 3","x":1.88,"y":-1.55},{"series":"CLASS 3","x":0.42,"y":-2.02},
      {"series":"CLASS 3","x":2.75,"y":-1.45},{"series":"CLASS 3","x":1.18,"y":-0.62},{"series":"CLASS 3","x":1.55,"y":-1.48},{"series":"CLASS 3","x":2.32,"y":-2.05},
      {"series":"CLASS 3","x":0.65,"y":-1.35},{"series":"CLASS 3","x":1.75,"y":-2.78},{"series":"CLASS 3","x":1.08,"y":-1.72},{"series":"CLASS 3","x":2.02,"y":-1.35},
      {"series":"CLASS 3","x":0.3,"y":-2.28},{"series":"CLASS 3","x":1.45,"y":-1.05},{"series":"CLASS 3","x":2.55,"y":-0.72},{"series":"CLASS 3","x":0.92,"y":-1.98},
      {"series":"CLASS 3","x":1.68,"y":-1.72},{"series":"CLASS 3","x":1.25,"y":-2.42},{"series":"CLASS 3","x":2.22,"y":-1.28},{"series":"CLASS 3","x":0.55,"y":-1.08},
      {"series":"CLASS 3","x":1.95,"y":-2.15},{"series":"CLASS 3","x":1.35,"y":-0.38},{"series":"CLASS 3","x":0.78,"y":-2.05},{"series":"CLASS 3","x":2.38,"y":-1.78},
      {"series":"CLASS 3","x":1.12,"y":-1.58},{"series":"CLASS 3","x":1.82,"y":-2.58},{"series":"CLASS 3","x":0.48,"y":-1.85},{"series":"CLASS 3","x":2.65,"y":-2.32},
      {"series":"CLASS 3","x":1.6,"y":-1.22},{"series":"CLASS 3","x":1.0,"y":-2.35},{"series":"CLASS 3","x":2.1,"y":-0.58},{"series":"CLASS 3","x":1.3,"y":-1.88},
      {"series":"CLASS 3","x":0.7,"y":-1.62},{"series":"CLASS 3","x":1.78,"y":-1.05},{"series":"CLASS 3","x":2.48,"y":-1.48},{"series":"CLASS 3","x":1.2,"y":-1.02},
      {"series":"CLASS 3","x":0.22,"y":-1.35},{"series":"CLASS 3","x":1.52,"y":-2.38},{"series":"CLASS 3","x":1.92,"y":-1.88},{"series":"CLASS 3","x":0.88,"y":-1.48},
      {"series":"CLASS 3","x":2.28,"y":-2.72},{"series":"CLASS 3","x":1.42,"y":-1.68},{"series":"CLASS 3","x":0.6,"y":-0.78},{"series":"CLASS 3","x":1.72,"y":-0.98},
      {"series":"CLASS 3","x":2.82,"y":-1.72},{"series":"CLASS 3","x":1.05,"y":-2.58},{"series":"CLASS 3","x":1.62,"y":-1.55},{"series":"CLASS 3","x":0.4,"y":-2.45},
      {"series":"CLASS 3","x":2.18,"y":-1.45},{"series":"CLASS 3","x":1.32,"y":-1.42},{"series":"CLASS 3","x":0.95,"y":-1.18},{"series":"CLASS 3","x":1.88,"y":-2.28},
      {"series":"CLASS 3","x":2.58,"y":-1.05},{"series":"CLASS 3","x":1.15,"y":-1.32},{"series":"CLASS 3","x":0.72,"y":-2.38},{"series":"CLASS 3","x":1.58,"y":-0.52},
      {"series":"CLASS 3","x":2.05,"y":-2.12},{"series":"CLASS 3","x":1.38,"y":-2.15},{"series":"CLASS 3","x":0.32,"y":-1.92},{"series":"CLASS 3","x":1.8,"y":-1.65},
      {"series":"CLASS 3","x":2.4,"y":-0.95},{"series":"CLASS 3","x":0.82,"y":-1.72},{"series":"CLASS 3","x":1.48,"y":-1.15},{"series":"CLASS 3","x":1.1,"y":-2.12},
      {"series":"CLASS 3","x":2.12,"y":-1.72},{"series":"CLASS 3","x":0.58,"y":-1.68},{"series":"CLASS 3","x":1.7,"y":-2.05},{"series":"CLASS 3","x":1.25,"y":-0.82},
      {"series":"CLASS 3","x":2.3,"y":-1.62},{"series":"CLASS 3","x":0.98,"y":-2.78},{"series":"CLASS 3","x":1.55,"y":-1.85},{"series":"CLASS 3","x":0.15,"y":-2.12},
      {"series":"CLASS 3","x":1.95,"y":-1.15},{"series":"CLASS 3","x":1.35,"y":-2.62},{"series":"CLASS 3","x":2.7,"y":-1.92},{"series":"CLASS 3","x":0.85,"y":-1.22},
      {"series":"CLASS 3","x":1.65,"y":-1.38},{"series":"CLASS 3","x":1.02,"y":-0.62},{"series":"CLASS 3","x":2.2,"y":-2.42},{"series":"CLASS 3","x":0.45,"y":-1.45},
      {"series":"CLASS 3","x":1.42,"y":-1.92},{"series":"CLASS 3","x":1.9,"y":-1.32},{"series":"CLASS 3","x":0.4,"y":-0.2},{"series":"CLASS 3","x":-0.18,"y":-1.0},
      {"series":"CLASS 3","x":1.35,"y":-1.3},{"series":"CLASS 3","x":1.55,"y":-1.5},{"series":"CLASS 3","x":1.15,"y":-1.4},{"series":"CLASS 3","x":1.6,"y":-1.1},{"series":"CLASS 3","x":1.25,"y":-1.65},
      {"series":"CLASS 3","x":1.8,"y":-1.35},{"series":"CLASS 3","x":1.0,"y":-1.25},{"series":"CLASS 3","x":1.45,"y":-1.8},{"series":"CLASS 3","x":1.7,"y":-1.55},{"series":"CLASS 3","x":1.2,"y":-1.0},
      {"series":"CLASS 3","x":1.9,"y":-1.75},{"series":"CLASS 3","x":0.95,"y":-1.55},{"series":"CLASS 3","x":1.5,"y":-1.2},{"series":"CLASS 3","x":1.3,"y":-2.0},{"series":"CLASS 3","x":2.0,"y":-1.5},
      {"series":"CLASS 3","x":1.1,"y":-1.78},{"series":"CLASS 3","x":1.65,"y":-0.95},{"series":"CLASS 3","x":1.4,"y":-1.6},{"series":"CLASS 3","x":0.85,"y":-1.05},{"series":"CLASS 3","x":2.1,"y":-1.3},
      {"series":"CLASS 3","x":1.28,"y":-1.38},{"series":"CLASS 3","x":1.75,"y":-1.82},{"series":"CLASS 3","x":1.05,"y":-2.05},{"series":"CLASS 3","x":1.6,"y":-1.65},{"series":"CLASS 3","x":2.2,"y":-1.9},
      {"series":"CLASS 3","x":0.75,"y":-1.6},{"series":"CLASS 3","x":1.5,"y":-0.78},{"series":"CLASS 3","x":1.85,"y":-1.08},{"series":"CLASS 3","x":1.2,"y":-2.22},{"series":"CLASS 3","x":1.4,"y":-1.12},
      {"series":"CLASS 3","x":2.3,"y":-1.2},{"series":"CLASS 3","x":0.9,"y":-1.88},{"series":"CLASS 3","x":1.68,"y":-2.18},{"series":"CLASS 3","x":1.32,"y":-0.68},{"series":"CLASS 3","x":1.95,"y":-2.0},
      {"series":"CLASS 3","x":1.1,"y":-1.12},{"series":"CLASS 3","x":1.55,"y":-1.95},{"series":"CLASS 3","x":0.65,"y":-1.25},{"series":"CLASS 3","x":2.05,"y":-1.62},{"series":"CLASS 3","x":1.25,"y":-1.55},
      {"series":"CLASS 3","x":1.78,"y":-1.42},{"series":"CLASS 3","x":1.45,"y":-2.35},{"series":"CLASS 3","x":0.98,"y":-1.38},{"series":"CLASS 3","x":2.4,"y":-1.68},{"series":"CLASS 3","x":1.62,"y":-1.32},
      {"series":"CLASS 3","x":1.15,"y":-0.88},{"series":"CLASS 3","x":1.88,"y":-2.38},{"series":"CLASS 3","x":1.38,"y":-1.85},{"series":"CLASS 3","x":0.8,"y":-2.2},{"series":"CLASS 3","x":2.15,"y":-1.05},
      {"series":"CLASS 3","x":1.52,"y":-1.62},{"series":"CLASS 3","x":1.02,"y":-1.72},{"series":"CLASS 3","x":1.72,"y":-1.18},{"series":"CLASS 3","x":1.3,"y":-2.5},{"series":"CLASS 3","x":2.25,"y":-2.15},
      {"series":"CLASS 3","x":0.7,"y":-1.45},{"series":"CLASS 3","x":1.58,"y":-2.08},{"series":"CLASS 3","x":1.9,"y":-1.48},{"series":"CLASS 3","x":1.18,"y":-1.48},{"series":"CLASS 3","x":1.42,"y":-0.9},
      {"series":"CLASS 3","x":2.5,"y":-1.35},{"series":"CLASS 3","x":0.92,"y":-2.4},{"series":"CLASS 3","x":1.65,"y":-1.78},{"series":"CLASS 3","x":1.35,"y":-1.52},{"series":"CLASS 3","x":2.0,"y":-0.82},
      {"series":"CLASS 3","x":1.08,"y":-1.3},{"series":"CLASS 3","x":1.75,"y":-2.5},{"series":"CLASS 3","x":0.55,"y":-1.95},{"series":"CLASS 3","x":1.48,"y":-1.42},{"series":"CLASS 3","x":2.12,"y":-2.3},
      {"series":"CLASS 3","x":1.22,"y":-1.92},{"series":"CLASS 3","x":1.82,"y":-1.25},{"series":"CLASS 3","x":0.88,"y":-1.18},{"series":"CLASS 3","x":1.6,"y":-2.42},{"series":"CLASS 3","x":2.35,"y":-1.52},
      {"series":"CLASS 3","x":1.12,"y":-2.6},{"series":"CLASS 3","x":1.55,"y":-1.02},{"series":"CLASS 3","x":0.6,"y":-2.1},{"series":"CLASS 3","x":1.95,"y":-1.6},{"series":"CLASS 3","x":1.28,"y":-1.22},
      {"series":"CLASS 3","x":1.7,"y":-1.95},{"series":"CLASS 3","x":2.6,"y":-1.82},{"series":"CLASS 3","x":1.0,"y":-0.95},{"series":"CLASS 3","x":1.42,"y":-2.05},{"series":"CLASS 3","x":1.85,"y":-1.88},
      {"series":"CLASS 3","x":0.78,"y":-1.78},{"series":"CLASS 3","x":2.2,"y":-1.42},{"series":"CLASS 3","x":1.32,"y":-1.75},{"series":"CLASS 3","x":1.62,"y":-0.7},{"series":"CLASS 3","x":1.05,"y":-2.25},
      {"series":"CLASS 3","x":2.45,"y":-2.0},{"series":"CLASS 3","x":1.5,"y":-1.7},{"series":"CLASS 3","x":0.45,"y":-1.62},{"series":"CLASS 3","x":1.8,"y":-2.2},{"series":"CLASS 3","x":1.25,"y":-1.08},
      {"series":"CLASS 3","x":2.08,"y":-1.15},{"series":"CLASS 3","x":1.38,"y":-2.78},{"series":"CLASS 3","x":0.95,"y":-1.7},{"series":"CLASS 3","x":1.72,"y":-1.48},{"series":"CLASS 3","x":2.3,"y":-2.55}
    ]
  },
  "resolve": {"axis": {"x": "independent", "y": "independent"}},
  "layer": [
    {
      "data": {"name": "bg"},
      "mark": {"type": "rect", "fill": "#9cf22c"},
      "encoding": {
        "x": {"field": "x1", "type": "quantitative", "scale": {"domain": [-5, 5], "nice": false, "zero": false},
              "axis": {"orient": "top", "labels": false, "tickSize": -14, "tickWidth": 1.5, "values": [-5,-4,-3,-2,-1,0,1,2,3,4,5], "domainColor": "#1e2a1e", "domainWidth": 2, "zindex": 2}},
        "x2": {"field": "x2"},
        "y": {"field": "y1", "type": "quantitative", "scale": {"domain": [-5, 5], "nice": false, "zero": false},
              "axis": {"orient": "left", "tickSize": -5, "tickWidth": 1.5, "labelPadding": 9, "values": [-5,-4,-3,-2,-1,0,1,2,3,4,5], "labelExpr": "toString(datum.value)", "domainColor": "#a8c4e4", "domainWidth": 1.5, "zindex": 2}},
        "y2": {"field": "y2"}
      }
    },
    {
      "data": {"name": "blue"},
      "mark": {"type": "line", "interpolate": "linear-closed", "fill": "#0a0ac4", "stroke": "#38b4ff", "strokeWidth": 2.5, "clip": true},
      "encoding": {
        "x": {"field": "x", "type": "quantitative", "axis": null},
        "y": {"field": "y", "type": "quantitative", "axis": null},
        "order": {"field": "i", "type": "quantitative"}
      }
    },
    {
      "data": {"name": "red"},
      "mark": {"type": "line", "interpolate": "linear-closed", "fill": "#560000", "stroke": "#ff8c00", "strokeWidth": 2.5, "clip": true},
      "encoding": {
        "x": {"field": "x", "type": "quantitative", "axis": null},
        "y": {"field": "y", "type": "quantitative", "axis": null},
        "order": {"field": "i", "type": "quantitative"}
      }
    },
    {
      "data": {"name": "pts"},
      "mark": {"type": "point", "filled": true, "strokeWidth": 1.5, "opacity": 1},
      "encoding": {
        "x": {"field": "x", "type": "quantitative",
              "axis": {"orient": "bottom", "tickSize": -14, "tickWidth": 1.5, "labelPadding": 21, "labelFlush": false, "values": [-5,-4,-3,-2,-1,0,1,2,3,4,5], "labelExpr": "toString(datum.value)", "domainColor": "#111", "domainWidth": 1.5, "zindex": 2}},
        "y": {"field": "y", "type": "quantitative", "axis": null},
        "fill": {"field": "series", "type": "nominal",
                 "scale": {"domain": ["Support Vector", "CLASS 1", "CLASS 2", "CLASS 3"], "range": ["#c8c000", "#5cff2a", "#ff1a00", "#3a5cff"]},
                 "legend": {"title": null, "orient": "none", "legendX": 506, "legendY": 10, "zindex": 3, "fillColor": "white", "strokeColor": "#222", "padding": 4,
                            "labelFont": "Liberation Serif", "labelFontSize": 10, "labelColor": "#111", "labelOffset": 2, "rowPadding": 8, "symbolStrokeWidth": 1.6,
                            "encode": {"symbols": {"update": {
                              "strokeWidth": [{"test": "datum.value === 'Support Vector'", "value": 3}, {"value": 1.6}]
                            }}}}},
        "stroke": {"field": "series", "type": "nominal",
                   "scale": {"domain": ["Support Vector", "CLASS 1", "CLASS 2", "CLASS 3"], "range": ["#000070", "#5cff2a", "#ff1a00", "#3a5cff"]}},
        "shape": {"field": "series", "type": "nominal",
                  "scale": {"domain": ["Support Vector", "CLASS 1", "CLASS 2", "CLASS 3"],
                            "range": ["M-1,0A1,0.6,0,1,1,1,0A1,0.6,0,1,1,-1,0Z", "M-0.7,-1L0.7,1M0.7,-1L-0.7,1", "M-0.54,0H0.54M0,-1V1", "M0,-1L0.67,0L0,1L-0.67,0Z"]}},
        "size": {"field": "series", "type": "ordinal",
                 "scale": {"type": "ordinal", "domain": ["Support Vector", "CLASS 1", "CLASS 2", "CLASS 3"], "range": [360, 36, 150, 100]}}
      }
    },
    {
      "data": {"name": "sv"},
      "mark": {"type": "point", "filled": false, "stroke": "#111", "strokeWidth": 2, "size": 169, "shape": "M0,-1A0.77,1,0,1,0,0,1A0.77,1,0,1,0,0,-1Z"},
      "encoding": {
        "x": {"field": "x", "type": "quantitative", "axis": null},
        "y": {"field": "y", "type": "quantitative", "axis": null}
      }
    }
  ]
}
